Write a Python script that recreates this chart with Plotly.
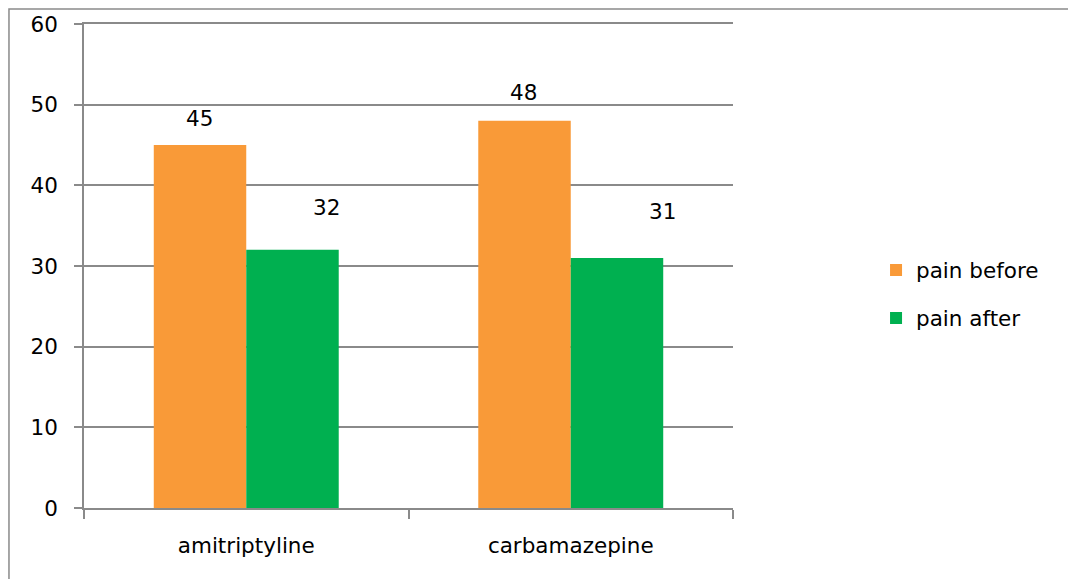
import plotly.graph_objects as go

categories = ["amitriptyline", "carbamazepine"]
pain_before = [45, 48]
pain_after = [32, 31]
series_names = ["pain before", "pain after"]
y_ticks = [0, 10, 20, 30, 40, 50, 60]

# label offsets (pixels) to mimic the original placement of data labels
before_label_shift = [(-47, 27), (-47, 28)]
after_label_shift = [(80, 42), (92, 46)]

FONT = "DejaVu Sans"
FS = 21.5
ORANGE = "#F99A38"
GREEN = "#00B050"
GRID = "#8a8a8a"

fig = go.Figure()
fig.add_trace(go.Bar(x=categories, y=pain_before, name=series_names[0],
                     marker=dict(color=ORANGE, line=dict(width=0)), legendgroup="a"))
fig.add_trace(go.Bar(x=categories, y=pain_after, name=series_names[1],
                     marker=dict(color=GREEN, line=dict(width=0)), legendgroup="b"))

for i, c in enumerate(categories):
    fig.add_annotation(x=c, y=pain_before[i], text=str(pain_before[i]), showarrow=False,
                       xshift=before_label_shift[i][0], yshift=before_label_shift[i][1],
                       font=dict(family=FONT, size=FS, color="black"))
    fig.add_annotation(x=c, y=pain_after[i], text=str(pain_after[i]), showarrow=False,
                       xshift=after_label_shift[i][0], yshift=after_label_shift[i][1],
                       font=dict(family=FONT, size=FS, color="black"))

# outer chart frame
fig.add_shape(type="rect", xref="paper", yref="paper", x0=-0.1156, x1=2, y0=-1, y1=1.031,
              line=dict(color=GRID, width=1.5), fillcolor="rgba(0,0,0,0)", layer="below")

fig.update_layout(
    width=1068, height=579,
    margin=dict(l=84, r=335, t=22, b=71),
    paper_bgcolor="white", plot_bgcolor="white",
    barmode="group", bargap=0.43, bargroupgap=0,
    font=dict(family=FONT, size=FS, color="black"),
    showlegend=True,
    legend=dict(x=1.2204, y=0.442, xanchor="left", yanchor="middle",
                traceorder="grouped", tracegroupgap=17,
                font=dict(family=FONT, size=FS, color="black"),
                bgcolor="rgba(0,0,0,0)"),
    xaxis=dict(type="category", showgrid=False, showline=True, linecolor=GRID, linewidth=1.5,
               mirror=True,
               ticks="outside", tickson="boundaries", ticklen=9, tickcolor=GRID, tickwidth=1.5,
               ticklabelstandoff=17, tickfont=dict(family=FONT, size=FS)),
    yaxis=dict(range=[0, 60], tickvals=y_ticks, showgrid=True, gridcolor=GRID, gridwidth=1.5,
               showline=True, linecolor=GRID, linewidth=1.5, zeroline=False,
               ticks="outside", ticklen=8, tickcolor=GRID, tickwidth=1.5,
               ticklabelstandoff=12, tickfont=dict(family=FONT, size=FS)),
)

fig.write_html("out.html", config={"displayModeBar": False},
               post_script="document.body.style.margin='0px';document.body.style.overflow='hidden';")
